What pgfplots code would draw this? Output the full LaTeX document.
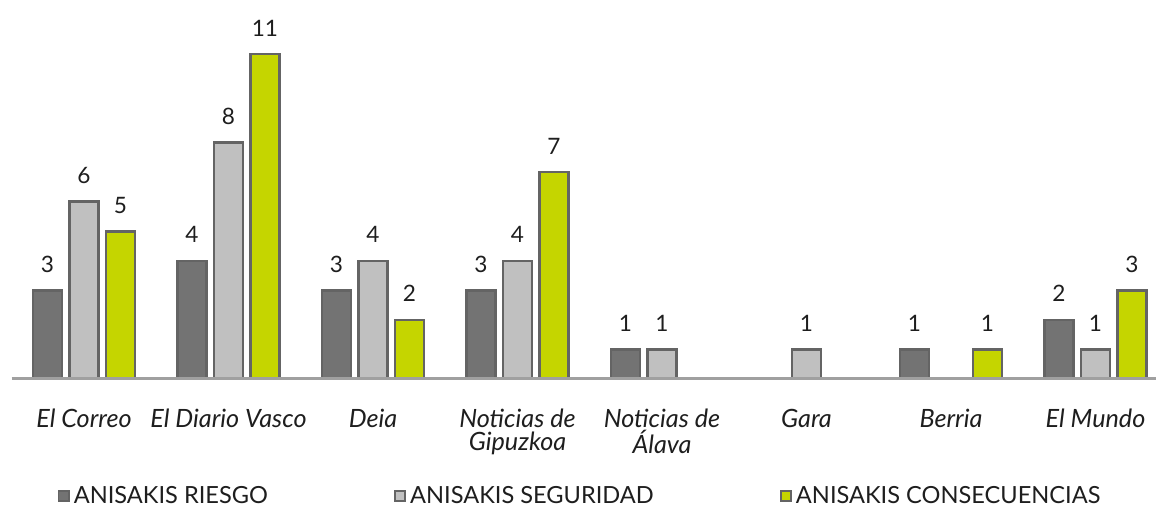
\documentclass[border=0pt]{standalone}
\usepackage{fontspec}
\setmainfont{Lato}
\usepackage{pgfplots}
\pgfplotsset{compat=1.18}
\definecolor{cdark}{HTML}{737373}
\definecolor{clight}{HTML}{C0C0C0}
\definecolor{clime}{HTML}{C5D500}
\definecolor{cedge}{HTML}{646464}
\definecolor{axisgray}{HTML}{A0A0A0}
\definecolor{txt}{HTML}{1E1E1E}
\pgfplotsset{legsq/.style={legend image code/.code={\draw[##1, line width=0.9pt] (0pt,-2.6pt) rectangle (5.2pt,2.6pt);}}}
\begin{document}
\begin{tikzpicture}
\begin{axis}[
  at={(0,0)}, anchor=south west,
  scale only axis, width=578pt, height=189.5pt,
  xmin=-0.5, xmax=7.5, ymin=0, ymax=12.83,
  ybar=3.75pt, bar width=14.5pt,
  hide y axis,
  axis x line*=bottom,
  x axis line style={draw=axisgray, line width=1.5pt, -},
  axis on top,
  xtick={0,...,7},
  xticklabels={El Correo, El Diario Vasco, Deia, {Noticias de\\Gipuzkoa}, {Noticias de\\Álava}, Gara, Berria, El Mundo},
  major tick length=0pt,
  xticklabel style={font=\itshape\fontsize{12.6}{11.5}\selectfont, text=txt, align=center, anchor=north, yshift=-11.5pt},
  nodes near coords,
  nodes near coords style={font=\fontsize{11.3}{13}\selectfont, text=txt, yshift=5pt},
  /pgf/number format/assume math mode=true,
  legend style={draw=none, at={(axis description cs:0.4925,-0.3087)}, anchor=center,
    legend columns=3, font=\fontsize{11.8}{13}\selectfont, text=txt,
    /tikz/every even column/.append style={column sep=61pt}},
]
\addplot[legsq, fill=cdark, draw=cedge, line width=1.25pt] coordinates {(0,3) (1,4) (2,3) (3,3) (4,1) (6,1) (7,2)};
\addplot[legsq, fill=clight, draw=cedge, line width=1.25pt] coordinates {(0,6) (1,8) (2,4) (3,4) (4,1) (5,1) (7,1)};
\addplot[legsq, fill=clime, draw=cedge, line width=1.25pt] coordinates {(0,5) (1,11) (2,2) (3,7) (6,1) (7,3)};
\legend{ANISAKIS RIESGO, ANISAKIS SEGURIDAD, ANISAKIS CONSECUENCIAS}
\end{axis}
\pgfresetboundingbox
\path (-5.875pt,-63.5pt) rectangle (572.125pt,189.5pt);
\end{tikzpicture}
\end{document}
